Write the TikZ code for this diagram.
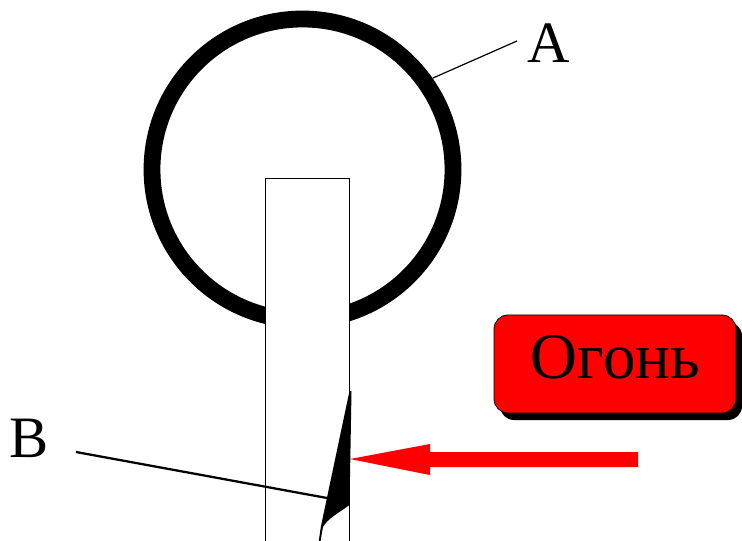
\documentclass[tikz,border=0pt]{standalone}
\usepackage{fontspec}
\setmainfont{Liberation Serif}
\tikzset{
  x=0.75pt,y=-0.75pt,
  lbl/.style={inner sep=0pt,font=\fontsize{44}{48}\selectfont},
  firetxt/.style={inner sep=0pt,font=\fontsize{48.8}{52}\selectfont},
  ring/.style={draw=black,line width=12.6pt},
  shaft/.style={draw=black,line width=0.6pt,fill=white},
  leader/.style={draw=black,line width=0.9pt},
  leaderb/.style={draw=black,line width=1.7pt},
}
\begin{document}
\begin{tikzpicture}
\useasboundingbox (0,0) rectangle (742,541);
\clip (0,0) rectangle (742,541);
% ring
\coordinate (ringc) at (302.5,169.5);
\draw[ring] (ringc) circle[radius=150.5*0.75pt];
% shaft
\draw[shaft] (265,560) -- (265,178) -- (349,178) -- (349,560);
% blade
\fill[black] (351.5,391) -- (349.5,505) .. controls (340,512) and (327,519) .. (323,527)
  -- (320.5,541) -- (318.8,541) -- (320.8,527) -- (349.5,391) -- cycle;
% labels
\node[lbl] (la) at (548.7,43) {A};
\node[lbl] (lb) at (29.2,438) {B};
\coordinate (aend) at (433,78);
\coordinate (astart) at (517,41);
\coordinate (bstart) at (76,452);
\coordinate (bend) at (327,498);
\draw[leader] (astart) -- (aend);
\draw[leaderb] (bstart) -- (bend);
% button
\fill[black,rounded corners=10.5pt] (500,322) rectangle (742,420);
\draw[black,fill=red,line width=0.6pt,rounded corners=10.5pt] (494,315) rectangle (736,413);
\node[firetxt] (fire) at (615.5,357) {Огонь};
% arrow
\fill[red] (638,452) -- (430,452) -- (430,444) -- (350,459) -- (430,475) -- (430,467) -- (638,467) -- cycle;
\end{tikzpicture}
\end{document}
